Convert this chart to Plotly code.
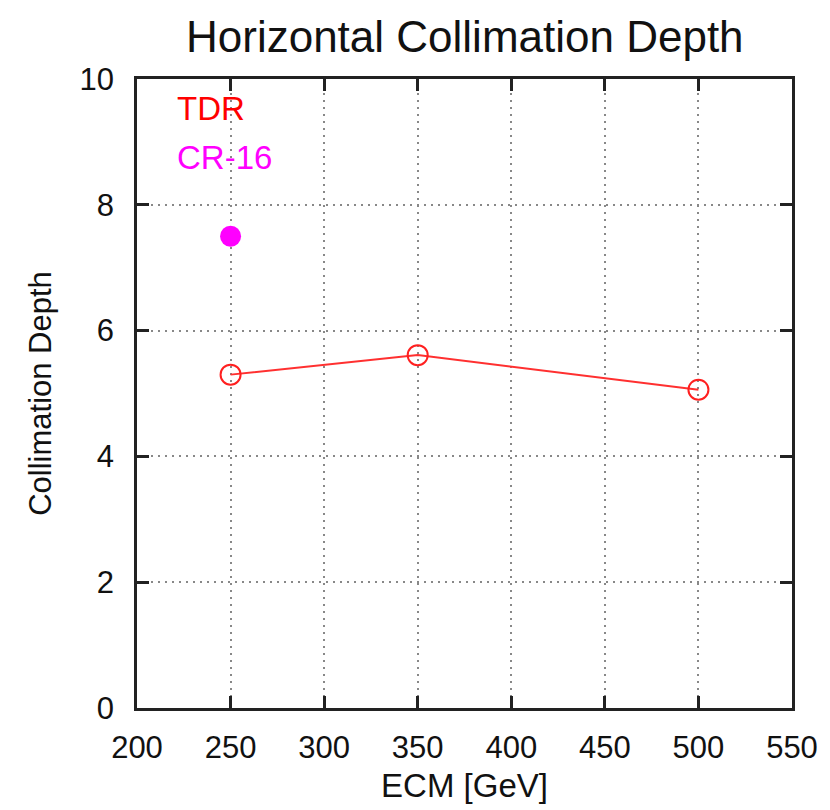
import plotly.graph_objects as go

tdr_ecm = [250, 350, 500]
tdr_depth = [5.30, 5.61, 5.06]
cr16_ecm = [250]
cr16_depth = [7.50]
x_ticks = [200, 250, 300, 350, 400, 450, 500, 550]
y_ticks = [0, 2, 4, 6, 8, 10]

FONT = "Liberation Sans, Arial, Helvetica, sans-serif"

fig = go.Figure()
fig.add_trace(go.Scatter(
    x=tdr_ecm, y=tdr_depth, mode="lines+markers", name="TDR",
    line=dict(color="#ff3030", width=2),
    marker=dict(symbol="circle-open", size=20, color="#ff2020", line=dict(width=2)),
))
fig.add_trace(go.Scatter(
    x=cr16_ecm, y=cr16_depth, mode="markers", name="CR-16",
    marker=dict(symbol="circle", size=21, color="#ff00ff"),
))

axis_common = dict(
    showline=True, linecolor="#222", linewidth=2.5, mirror="ticks",
    ticks="inside", ticklen=12, tickwidth=2.5, tickcolor="#222",
    showgrid=True, gridcolor="#888", griddash="2px,5px", gridwidth=1.5,
    zeroline=False, tickfont=dict(family=FONT, size=31, color="#111"),
)

fig.update_layout(
    width=830, height=810,
    paper_bgcolor="white", plot_bgcolor="white",
    margin=dict(l=137, r=37, t=79, b=98),
    showlegend=False,
    title=dict(text="Horizontal Collimation Depth", x=0.56, xanchor="center",
               y=0.955, yanchor="middle",
               font=dict(family=FONT, size=44, color="#111")),
    xaxis=dict(range=[200, 550], tickvals=x_ticks, ticklabelstandoff=10, **axis_common,
               title=dict(text="ECM [GeV]", standoff=10,
                          font=dict(family=FONT, size=33, color="#111"))),
    yaxis=dict(range=[0, 10], tickvals=y_ticks, ticklabelstandoff=14, **axis_common,
               title=dict(text="Collimation Depth", standoff=19,
                          font=dict(family=FONT, size=31, color="#111"))),
    annotations=[
        dict(text="TDR", x=175, y=109, xref="paper", yref="paper", showarrow=False,
             font=dict(family=FONT, size=33, color="#ff0000"), xanchor="left", yanchor="middle"),
        dict(text="CR-16", x=175, y=158, xref="paper", yref="paper", showarrow=False,
             font=dict(family=FONT, size=33, color="#ff00ff"), xanchor="left", yanchor="middle"),
    ],
)

# convert pixel positions of legend-like labels into paper coords
pw = 830 - 137 - 37
ph = 810 - 79 - 98
for a in fig.layout.annotations:
    a.x = (a.x - 137) / pw
    a.y = (712 - a.y) / ph

fig.write_html("out.html")
